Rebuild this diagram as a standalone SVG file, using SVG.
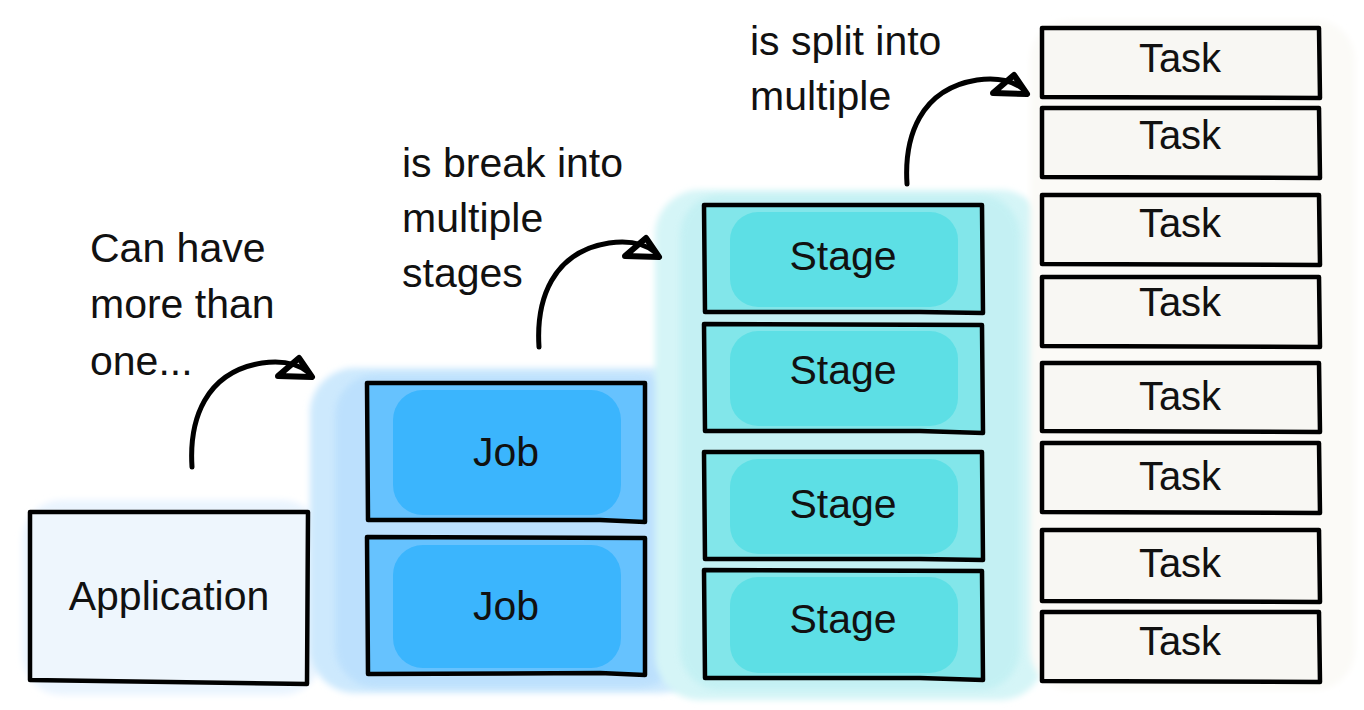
<svg xmlns="http://www.w3.org/2000/svg" width="1364" height="710" viewBox="0 0 1364 710">
<defs>
<style>
text{font-family:"Liberation Sans",Arial,sans-serif;font-size:41px;fill:#111;}
.c{text-anchor:middle;}
.t{font-size:40px;}
.box{stroke:#000;stroke-width:4.5;stroke-linejoin:round;}
.edge{fill:none;stroke:#000;stroke-width:5;stroke-linecap:round;}
.head{fill:none;stroke:#000;stroke-width:6;stroke-linejoin:round;}
.jobOuter{fill:#66c2fe;}
.jobInner{fill:#3bb5fd;}
.stOuter{fill:#82e6ea;}
.stInner{fill:#5ddfe5;}
.task{fill:#f8f7f3;}
</style>
<filter id="soft" x="-10%" y="-10%" width="120%" height="120%"><feGaussianBlur stdDeviation="3"/></filter>
</defs>
<rect width="1364" height="710" fill="#fff"/>

<g id="halos">
<rect x="22" y="500" width="300" height="195" rx="40" fill="#eaf4fe" filter="url(#soft)"/>
<rect x="310" y="368" width="395" height="325" rx="45" fill="#cde9fd" filter="url(#soft)"/>
<rect x="335" y="375" width="345" height="312" rx="40" fill="#b6ddfd" opacity="0.7" filter="url(#soft)"/>
<rect x="655" y="190" width="390" height="510" rx="45" fill="#d5f5f7" filter="url(#soft)"/>
<rect x="680" y="195" width="340" height="495" rx="40" fill="#bdeff2" opacity="0.7" filter="url(#soft)"/>
<rect x="1030" y="20" width="325" height="670" rx="40" fill="#fbfaf7" filter="url(#soft)"/>
</g>

<g id="application">
<path class="box" fill="#eef6fd" d="M30,512 L308,512 L307,684 L30,680 Z"/>
<text class="c" x="169" y="610">Application</text>
</g>

<g id="job1">
<path class="jobOuter" d="M367,383 L645,383 L645,522 L367,520 Z"/>
<rect class="jobInner" x="393" y="390" width="228" height="125" rx="30"/>
<path class="box" fill="none" d="M367,383 L645,383 L645,522 L600,520 L368,520 Z"/>
<text class="c" x="506" y="466">Job</text>
</g>
<g id="job2">
<path class="jobOuter" d="M367,537 L645,537 L645,675 L367,673 Z"/>
<rect class="jobInner" x="393" y="545" width="228" height="123" rx="30"/>
<path class="box" fill="none" d="M367,537 L645,538 L645,675 L600,673 L368,674 Z"/>
<text class="c" x="506" y="620">Job</text>
</g>

<g id="stage1">
<path class="stOuter" d="M704,205 L982,205 L983,313 L704,312 Z"/>
<rect class="stInner" x="730" y="212" width="228" height="95" rx="28"/>
<path class="box" fill="none" d="M704,205 L982,205 L983,313 L920,312 L705,312 Z"/>
<text class="c" x="843" y="270">Stage</text>
</g>
<g id="stage2">
<path class="stOuter" d="M704,324 L982,325 L983,433 L704,431 Z"/>
<rect class="stInner" x="730" y="331" width="228" height="95" rx="28"/>
<path class="box" fill="none" d="M704,324 L982,325 L983,433 L920,431 L705,431 Z"/>
<text class="c" x="843" y="384">Stage</text>
</g>
<g id="stage3">
<path class="stOuter" d="M704,452 L982,452 L983,560 L704,559 Z"/>
<rect class="stInner" x="730" y="459" width="228" height="95" rx="28"/>
<path class="box" fill="none" d="M704,452 L982,452 L983,560 L920,559 L705,559 Z"/>
<text class="c" x="843" y="518">Stage</text>
</g>
<g id="stage4">
<path class="stOuter" d="M704,570 L982,571 L983,680 L704,678 Z"/>
<rect class="stInner" x="730" y="577" width="228" height="96" rx="28"/>
<path class="box" fill="none" d="M704,570 L982,571 L983,680 L920,678 L705,678 Z"/>
<text class="c" x="843" y="633">Stage</text>
</g>

<g id="task1"><path class="box task" d="M1042,28 L1319,28 L1320,98 L1042,97 Z"/><text class="c t" x="1180" y="72">Task</text></g>
<g id="task2"><path class="box task" d="M1042,108 L1319,108 L1320,178 L1042,177 Z"/><text class="c t" x="1180" y="149">Task</text></g>
<g id="task3"><path class="box task" d="M1042,195 L1319,195 L1320,265 L1042,264 Z"/><text class="c t" x="1180" y="237">Task</text></g>
<g id="task4"><path class="box task" d="M1042,277 L1319,277 L1320,347 L1042,346 Z"/><text class="c t" x="1180" y="316">Task</text></g>
<g id="task5"><path class="box task" d="M1042,363 L1319,363 L1320,432 L1042,431 Z"/><text class="c t" x="1180" y="410">Task</text></g>
<g id="task6"><path class="box task" d="M1042,443 L1319,443 L1320,513 L1042,512 Z"/><text class="c t" x="1180" y="490">Task</text></g>
<g id="task7"><path class="box task" d="M1042,530 L1319,530 L1320,602 L1042,601 Z"/><text class="c t" x="1180" y="577">Task</text></g>
<g id="task8"><path class="box task" d="M1042,612 L1319,612 L1320,682 L1042,681 Z"/><text class="c t" x="1180" y="655">Task</text></g>

<g id="labels">
<text x="90" y="262">Can have</text>
<text x="90" y="318">more than</text>
<text x="90" y="375">one...</text>
<text x="402" y="177">is break into</text>
<text x="402" y="232">multiple</text>
<text x="402" y="287">stages</text>
<text x="750" y="55">is split into</text>
<text x="750" y="110">multiple</text>
</g>

<g id="connectors">
<g>
<path class="edge" d="M192,467 C189,420 205,372 262,363 C284,360 298,364 308,372"/>
<path class="head" d="M299,358 L312,377 L278,376 Z"/>
</g>
<g transform="translate(347,-120)">
<path class="edge" d="M192,467 C189,420 205,372 262,363 C284,360 298,364 308,372"/>
<path class="head" d="M299,358 L312,377 L278,376 Z"/>
</g>
<g transform="translate(715,-283)">
<path class="edge" d="M192,467 C189,420 205,372 262,363 C284,360 298,364 308,372"/>
<path class="head" d="M299,358 L312,377 L278,376 Z"/>
</g>
</g>
</svg>
